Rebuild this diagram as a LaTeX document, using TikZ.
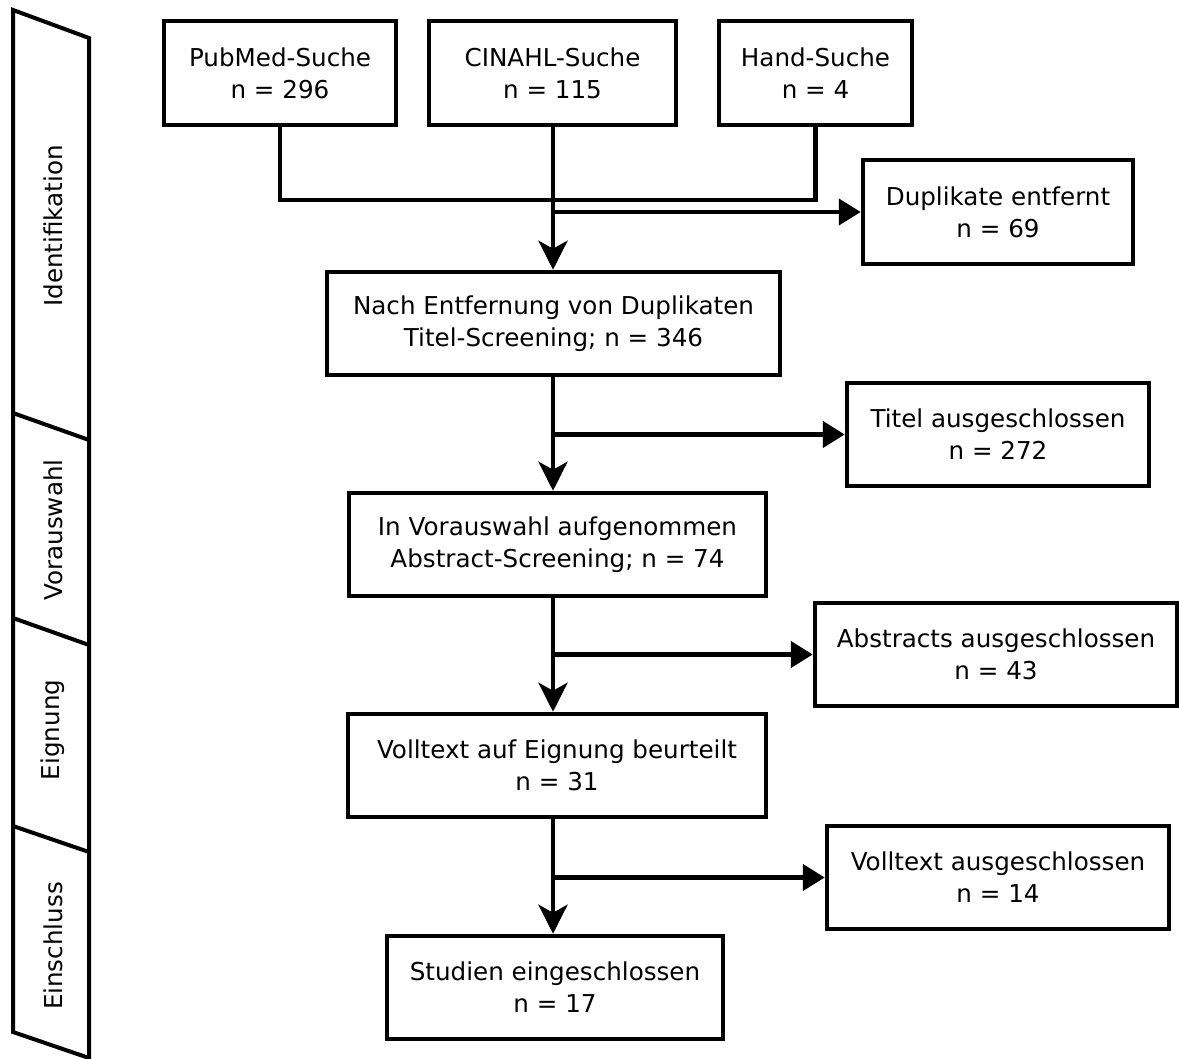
\documentclass[tikz,border=0pt]{standalone}
\usepackage{fontspec}
\setmainfont{DejaVu Sans}
\usepackage{tikz}
\usetikzlibrary{arrows.meta}
\usetikzlibrary{calc}

\begin{document}
\begin{tikzpicture}[x=1pt,y=-1pt,
every node/.style={font=\fontsize{24.6}{32}\selectfont},
box/.style={draw,line width=4.5pt,rectangle,align=center,inner sep=0pt,minimum height=103pt},
flow/.style={line width=4.5pt},
down/.style={flow,-{Stealth[length=29pt,width=29pt,inset=8pt]}},
side/.style={flow,-{Triangle[length=22pt,width=26pt]}},
phase/.style={line width=4pt,line join=miter}]
\useasboundingbox (0,0) rectangle (1179,1059);
%\draw[help lines] (0,0) grid[step=100] (1179,1059);

% phases on the left
\draw[phase] (13,10) -- (89,38) -- (89,1058) -- (13,1032) -- cycle;
\draw[phase] (13,413) -- (89,440);
\draw[phase] (13,618) -- (89,645);
\draw[phase] (13,826) -- (89,852);
\node[rotate=90] (ident) at (53,226) {Identifikation};
\node[rotate=90] (vorausw) at (53,530) {Vorauswahl};
\node[rotate=90] (eign) at (53,730) {Eignung};
\node[rotate=90] (einschl) at (53,946) {Einschluss};

% search boxes
\node[box,minimum width=232pt,minimum height=104pt] (pub) at (280,73) {PubMed-Suche\\n = 296};
\node[box,minimum width=247pt,minimum height=104pt] (cin) at (552.5,73) {CINAHL-Suche\\n = 115};
\node[box,minimum width=193pt,minimum height=104pt] (hand) at (815.5,73) {Hand-Suche\\n = 4};

% main column
\coordinate (col) at (553,0);
\node[box,minimum width=453pt] (nach) at (553.5,323.5) {Nach Entfernung von Duplikaten\\Titel-Screening; n = 346};
\node[box,minimum width=417pt] (vor) at (557.5,544.5) {In Vorauswahl aufgenommen\\Abstract-Screening; n = 74};
\node[box,minimum width=418pt] (voll) at (557,765.5) {Volltext auf Eignung beurteilt\\n = 31};
\node[box,minimum width=336pt] (stud) at (555,987.5) {Studien eingeschlossen\\n = 17};

% excluded
\node[box,minimum width=270pt,minimum height=104pt] (dup) at (998,212) {Duplikate entfernt\\n = 69};
\node[box,minimum width=302pt] (titel) at (998,434.5) {Titel ausgeschlossen\\n = 272};
\node[box,minimum width=362pt] (abs) at (996,654.5) {Abstracts ausgeschlossen\\n = 43};
\node[box,minimum width=342pt] (vaus) at (998,877.5) {Volltext ausgeschlossen\\n = 14};

\draw[flow] (pub.south) -- ++(0,73) -| (hand.south);
\draw[down] (col |- cin.south) -- (col |- nach.north);
\draw[side] (col |- dup.west) -- (dup.west);

\draw[down] (col |- nach.south) -- (col |- vor.north);
\draw[side] (col |- titel.west) -- (titel.west);

\draw[down] (col |- vor.south) -- (col |- voll.north);
\draw[side] (col |- abs.west) -- (abs.west);

\draw[down] (col |- voll.south) -- (col |- stud.north);
\draw[side] (col |- vaus.west) -- (vaus.west);
\end{tikzpicture}
\end{document}
